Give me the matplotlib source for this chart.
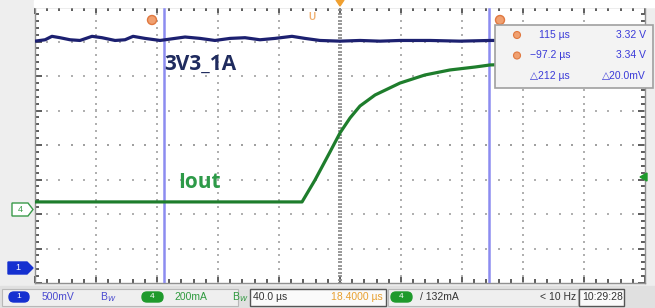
import numpy as np
import matplotlib
matplotlib.use("Agg")
import matplotlib.pyplot as plt
from matplotlib.patches import FancyBboxPatch, Rectangle, Polygon, Circle
plt.rcParams['font.family'] = ['Liberation Sans', 'DejaVu Sans']

# ---- scope settings ----
t_per_div = 40.0      # us/div
ch1_scale = 0.5       # V/div
ch4_scale = 200.0     # mA/div
ch1_offset = -3.57    # div, ground marker of channel 1
ch4_offset = -1.83    # div, ground marker of channel 4

# ---- channel 1 (3V3_1A), time in us, voltage in V ----
t_ch1 = [-200, -193.4, -188.9, -183.6, -177, -170.5, -162.6, -156.1, -147.5, -141,
         -135.7, -127.9, -118, -111.5, -101.6, -91.8, -82, -72.1, -62.3, -52.5,
         -42.6, -31.5, -23, -13.1, 0, 13.1, 26.2, 39.3, 59, 78.7, 98.4, 118,
         144.3, 170.5, 200]
v_ch1 = [3.29, 3.31, 3.36, 3.34, 3.31, 3.30, 3.36, 3.34, 3.30, 3.31,
         3.36, 3.33, 3.30, 3.32, 3.35, 3.33, 3.30, 3.33, 3.34, 3.31,
         3.33, 3.36, 3.33, 3.30, 3.29, 3.30, 3.29, 3.30, 3.30, 3.29, 3.30, 3.30,
         3.29, 3.30, 3.30]

# ---- channel 4 (Iout), time in us, current in mA ----
t_ch4 = [-200, -150, -100, -60, -24.9, -16.4, -6.6, 0, 6.6, 13.1, 23, 39.3,
         55.7, 72.1, 88.5, 98.4, 118, 144.3, 170.5, 200]
i_ch4 = [36, 36, 36, 36, 36, 163, 325, 436, 523, 592, 656, 725,
         772, 801, 818, 830, 836, 841, 847, 847]

cursor_t = [-115.4, 98.0]

fig = plt.figure(figsize=(6.55, 3.08), dpi=100, facecolor='#eeeeee')
ax = fig.add_axes([35/655, 25/308, 610/655, 276/308])
ax.set_xlim(-200, 200)
ax.set_ylim(-4, 4)
ax.set_facecolor('white')

# graticule dots
dot_c = '#b0b0b0'
for k in range(-4, 5):
    x = k * t_per_div
    if k == 0:
        ys = np.arange(-4, 4.01, 0.1)
        ax.plot(np.full(len(ys), x), ys, ls='none', marker='_', ms=3.5,
                color='#909090', mew=1.3)
    else:
        ys = np.arange(-4, 4.01, 0.2)
        ax.plot(np.full(len(ys), x), ys, ls='none', marker='s', ms=1.6, color=dot_c, mew=0)
for j in range(-3, 4):
    xs = np.arange(-200, 200.1, 8)
    ax.plot(xs, np.full(len(xs), j), ls='none', marker='s',
            ms=2.0 if j == 0 else 1.7, color='#a0a0a0' if j == 0 else dot_c, mew=0)

# border ticks
ax.set_xticks(np.arange(-200, 201, 40))
ax.set_yticks(np.arange(-4, 5, 1))
ax.set_xticks(np.arange(-200, 201, 8), minor=True)
ax.set_yticks(np.arange(-4, 4.01, 0.2), minor=True)
ax.tick_params(which='both', direction='in', top=True, right=True,
               labelbottom=False, labelleft=False, color='#505050', width=1.3)
ax.tick_params(which='major', length=5)
ax.tick_params(which='minor', length=3)
for s in ax.spines.values():
    s.set_color('#909090')
    s.set_linewidth(1)

# cursors
for ct in cursor_t:
    ax.axvline(ct, color='#8c8cf0', lw=1.8, zorder=3)

# traces
y1 = np.array(v_ch1) / ch1_scale + ch1_offset
y4 = np.array(i_ch4) / ch4_scale + ch4_offset
ax.plot(t_ch1, y1, color='#1c2070', lw=2.3, zorder=4)
ax.plot(t_ch4, y4, color='#1e7d2c', lw=2.3, zorder=4)

ax.text(-115, 2.35, '3V3_1A', color='#1f2b5e', fontsize=15, fontweight='bold',
        family=['Open Sans', 'DejaVu Sans'], va='center')
ax.text(-106, -1.1, 'Iout', color='#2d9a48', fontsize=15, fontweight='bold',
        family=['Open Sans', 'DejaVu Sans'], va='center')

# ---- overlay in pixel units ----
ov = fig.add_axes([0, 0, 1, 1], zorder=5)
ov.set_xlim(0, 655)
ov.set_ylim(308, 0)
ov.axis('off')
ov.patch.set_alpha(0)

ov.add_patch(Rectangle((34, 0), 621, 6.5, color='white', zorder=0))

# top markers
orange = '#f0a070'
for cx in (152, 500):
    ov.add_patch(Circle((cx, 20), 4.5, facecolor=orange, edgecolor='#e07840', lw=1))
ov.text(312, 17, 'U', color='#f0b070', fontsize=7, ha='center', va='center', fontweight='bold')
ov.add_patch(Polygon([(336, 0), (344, 0), (340, 6)], color='#f0a030'))

# measurement box
ov.add_patch(Rectangle((495, 25), 158, 63, facecolor='#f3f3f3', edgecolor='#a0a0a0', lw=1.2))
txt_c = '#3a3ad8'
rows = [('115 µs', '3.32 V', True), ('\u221297.2 µs', '3.34 V', True),
        ('\u25b3212 µs', '\u25b320.0mV', False)]
for i, (a, b, icon) in enumerate(rows):
    yy = 35 + i * 20.5
    if icon:
        ov.add_patch(Circle((517, yy), 3.5, facecolor=orange, edgecolor='#e07840', lw=0.8))
    ov.text(570, yy, a, color=txt_c, fontsize=7.5, ha='right', va='center')
    ov.text(646, yy, b, color=txt_c, fontsize=7.5, ha='right', va='center')

# left channel markers
ov.add_patch(Polygon([(12, 203), (28, 203), (33, 209.5), (28, 216), (12, 216)],
                     facecolor='white', edgecolor='#3a9a4a', lw=1))
ov.text(20, 209.5, '4', color='#3a9a4a', fontsize=6.5, ha='center', va='center')
ov.add_patch(Polygon([(8, 262), (27, 262), (33, 268), (27, 274), (8, 274)],
                     facecolor='#1530d0', edgecolor='#1530d0'))
ov.text(18, 268, '1', color='white', fontsize=6.5, ha='center', va='center')
ov.add_patch(Polygon([(640, 177), (647, 173), (647, 181)], color='#1e9a2c'))

# bottom status bar
ov.add_patch(Rectangle((0, 286), 655, 22, color='#e0e0e0'))
ov.add_patch(Rectangle((2, 289), 236, 17, facecolor='#efefef', edgecolor='#b8b8b8', lw=0.8))
ov.add_patch(FancyBboxPatch((9, 292), 20, 10, boxstyle='round,pad=0,rounding_size=5',
                            color='#1530d0'))
ov.text(19, 297, '1', color='white', fontsize=6, ha='center', va='center')
ov.text(42, 297, '500mV', color='#4a4ad0', fontsize=7.5, va='center')
ov.text(100, 297.5, 'B$_W$', color='#4a4ad0', fontsize=7.5, va='center')
ov.add_patch(FancyBboxPatch((142, 292), 21, 10, boxstyle='round,pad=0,rounding_size=5',
                            color='#1e9a2c'))
ov.text(152.5, 297, '4', color='white', fontsize=6, ha='center', va='center')
ov.text(174, 297, '200mA', color='#2e9a3e', fontsize=7.5, va='center')
ov.text(232, 297.5, 'B$_W$', color='#2e9a3e', fontsize=7.5, va='center')
ov.add_patch(Rectangle((250, 289), 136, 17, facecolor='#fafafa', edgecolor='#555555', lw=1))
ov.text(253, 297, '40.0 µs', color='#333333', fontsize=7.5, va='center')
ov.text(383, 297, '18.4000 µs', color='#e8a030', fontsize=7.5, ha='right', va='center')
ov.add_patch(Rectangle((388, 289), 190, 17, facecolor='#efefef', edgecolor='#b8b8b8', lw=0.8))
ov.add_patch(FancyBboxPatch((391, 292), 21, 10, boxstyle='round,pad=0,rounding_size=5',
                            color='#1e9a2c'))
ov.text(401.5, 297, '4', color='white', fontsize=6, ha='center', va='center')
ov.text(420, 297, '/ 132mA', color='#333333', fontsize=7.5, va='center')
ov.text(576, 297, '< 10 Hz', color='#333333', fontsize=7.5, ha='right', va='center')
ov.add_patch(Rectangle((579, 289), 45, 17, facecolor='#fafafa', edgecolor='#555555', lw=1))
ov.text(582, 297, '10:29:28', color='#333333', fontsize=7.5, va='center')

fig.savefig('out.png', dpi=100, facecolor=fig.get_facecolor())
